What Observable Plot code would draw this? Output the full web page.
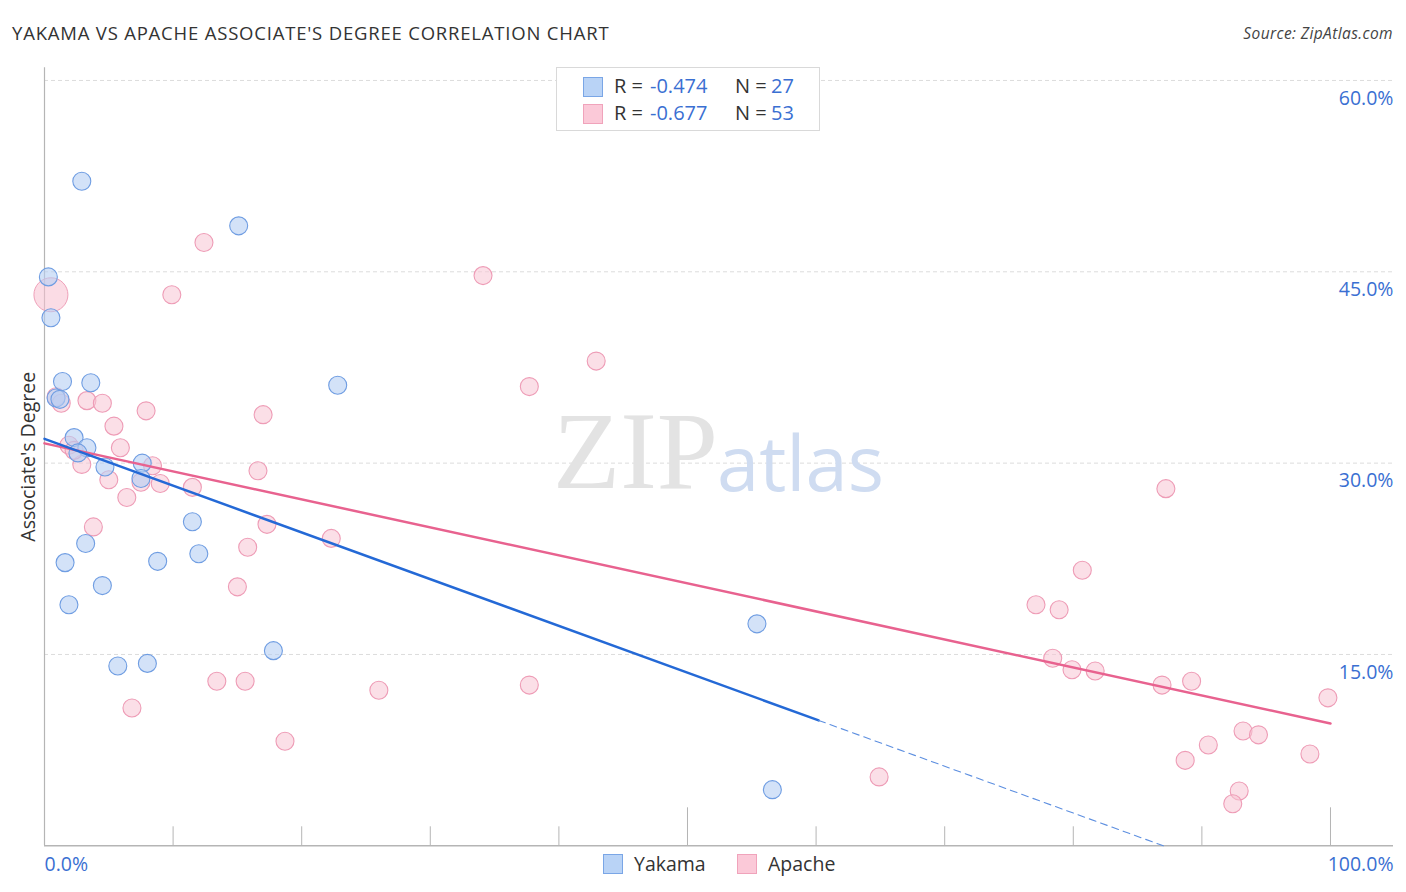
<!DOCTYPE html>
<html>
<head>
<meta charset="utf-8">
<script src="https://cdn.jsdelivr.net/npm/d3@7"></script>
<script src="https://cdn.jsdelivr.net/npm/@observablehq/plot@0.6"></script>
<style>
  html, body { margin: 0; padding: 0; background: #fff; }
  #wrap { position: relative; width: 1406px; height: 892px; font-family: "Open Sans", sans-serif; overflow: hidden; }
  #title { position: absolute; left: 12px; top: 20px; font-size: 18.5px; color: #333; letter-spacing: 0.8px; white-space: nowrap; }
  #source { position: absolute; right: 13px; top: 22px; font-size: 15.5px; color: #444; font-style: italic; letter-spacing: 0.4px; }
  #chart { position: absolute; left: 0; top: 50px; }
  .wm { position: absolute; pointer-events: none; }
  #legbox { position: absolute; left: 556px; top: 67px; width: 262px; height: 62px; border: 1px solid #d9d9d9; background: #fff; font-size: 20px; color: #333; }
  .lab { position: absolute; line-height: 26px; white-space: nowrap; }
  .sw { position: absolute; box-sizing: border-box; }
  .blue { color: #3a6fd2; }
</style>
</head>
<body>
<div id="wrap">
  <div id="title">YAKAMA VS APACHE ASSOCIATE'S DEGREE CORRELATION CHART</div>
  <div id="source">Source: ZipAtlas.com</div>
  <div id="chart"></div>
  <div class="wm" style="left:553px; top:388px; font-family:'Liberation Serif','DejaVu Serif',serif; font-size:110px; color:#e3e3e3;">ZIP</div>
  <div class="wm" style="left:717px; top:410px; font-family:'Open Sans',sans-serif; font-size:76px; color:#cfdcf1;">atlas</div>
  <div id="legbox"></div>
</div>
<script>
// ---- data ----
const seriesNames = ["Yakama", "Apache"];
const seriesR = ["-0.474", "-0.677"];
const seriesN = ["27", "53"];

const yakamaX = [2.9, 15.1, 0.3, 0.5, 1.4, 3.6, 0.9, 1.2, 22.8, 2.3, 3.3, 2.6, 4.7, 7.6, 7.5, 11.5, 3.2, 1.6, 8.8, 12.0, 4.5, 1.9, 17.8, 5.7, 8.0, 55.4, 56.6];
const yakamaY = [52.1, 48.6, 44.6, 41.4, 36.4, 36.3, 35.1, 35.0, 36.1, 32.0, 31.2, 30.8, 29.7, 30.0, 28.8, 25.4, 23.7, 22.2, 22.3, 22.9, 20.4, 18.9, 15.3, 14.1, 14.3, 17.4, 4.4];

const apacheX = [12.4, 9.9, 0.9, 1.3, 3.3, 4.5, 7.9, 17.0, 5.4, 5.9, 1.9, 2.9, 5.0, 8.4, 7.5, 9.0, 11.5, 16.6, 6.4, 3.8, 17.3, 22.3, 15.8, 15.0, 13.4, 15.6, 6.8, 18.7, 34.1, 42.9, 37.7, 26.0, 37.7, 64.9, 87.2, 80.7, 77.1, 78.9, 78.4, 79.9, 81.7, 86.9, 89.2, 99.8, 93.2, 94.4, 90.5, 88.7, 98.4, 92.9, 92.4, 2.3];
const apacheY = [47.3, 43.2, 35.2, 34.7, 34.9, 34.7, 34.1, 33.8, 32.9, 31.2, 31.4, 29.9, 28.7, 29.8, 28.5, 28.4, 28.1, 29.4, 27.3, 25.0, 25.2, 24.1, 23.4, 20.3, 12.9, 12.9, 10.8, 8.2, 44.7, 38.0, 36.0, 12.2, 12.6, 5.4, 28.0, 21.6, 18.9, 18.5, 14.7, 13.8, 13.7, 12.6, 12.9, 11.6, 9.0, 8.7, 7.9, 6.7, 7.2, 4.3, 3.3, 31.0];
// one Apache point drawn as a large bubble
const apacheBigX = [0.5];
const apacheBigY = [43.2];

// fitted trend lines (end points)
const yakamaTrendX = [0, 60.2];
const yakamaTrendY = [31.9, 9.83];
const yakamaTrendExtX = [60.2, 87.0];
const yakamaTrendExtY = [9.83, 0];
const apacheTrendX = [0, 100];
const apacheTrendY = [31.55, 9.59];

const xTicks = [0, 10, 20, 30, 40, 50, 60, 70, 80, 90, 100];
const xLongTicks = [50, 100];
const yTicks = [15, 30, 45, 60];
const xLabelLeft = [0];
const xLabelRight = [100];

const xDomain = [0, 104.9];
const yDomain = [0, 61];

// ---- build tables ----
const zip = (xs, ys) => xs.map((x, i) => ({x, y: ys[i]}));
const yakama = zip(yakamaX, yakamaY);
const apache = zip(apacheX, apacheY);
const apacheBig = zip(apacheBigX, apacheBigY);
const yakTrend = zip(yakamaTrendX, yakamaTrendY);
const yakTrendExt = zip(yakamaTrendExtX, yakamaTrendExtY);
const apTrend = zip(apacheTrendX, apacheTrendY);

const W = 1406, H = 842, mT = 17.2, mB = 46.7, mL = 44, mR = 13;
const plotH = H - mT - mB;
const blueText = "#3a6fd2";
const axisGray = "#b5b5b5";

const fmt = d => d.toFixed(1) + "%";

const chart = Plot.plot({
  width: W, height: H,
  marginTop: mT, marginBottom: mB, marginLeft: mL, marginRight: mR,
  x: {domain: xDomain, axis: null},
  y: {domain: yDomain, axis: null},
  style: {fontFamily: "'Open Sans', sans-serif", background: "transparent", overflow: "visible"},
  marks: [
    Plot.ruleY(yTicks, {y: d => d, stroke: "#dcdcdc", strokeDasharray: "4,3"}),
    Plot.ruleX(xTicks.filter(d => !xLongTicks.includes(d) && d !== 0), {x: d => d, stroke: axisGray, insetTop: plotH - 19}),
    Plot.ruleX(xLongTicks, {x: d => d, stroke: axisGray, insetTop: plotH - 38}),
    Plot.ruleX([0], {x: d => d, stroke: axisGray, strokeWidth: 1.2}),
    Plot.ruleY([0], {y: d => d, stroke: axisGray, strokeWidth: 1.5}),
    Plot.text(yTicks, {x: xDomain[1], y: d => d, text: fmt, textAnchor: "end", dy: 18, fill: blueText, fontSize: 19.5}),
    Plot.text(xLabelLeft, {x: d => d, y: 0, text: fmt, textAnchor: "start", dy: 18.5, fill: blueText, fontSize: 19.5}),
    Plot.text(xLabelRight, {x: xDomain[1], y: 0, text: fmt, textAnchor: "end", dy: 18.5, fill: blueText, fontSize: 19.5}),
    Plot.text(["Associate's Degree"], {frameAnchor: "left", text: d => d, rotate: -90, textAnchor: "middle", dx: -16, dy: 0, fill: "#333", fontSize: 19.5}),
    Plot.dot(apacheBig, {x: "x", y: "y", r: 17, fill: "#f7bfd0", fillOpacity: 0.55, stroke: "#ef9fb8", strokeWidth: 1}),
    Plot.dot(apache, {x: "x", y: "y", r: 9, fill: "#f8c4d3", fillOpacity: 0.55, stroke: "#ee9cb6", strokeWidth: 1.1}),
    Plot.dot(yakama, {x: "x", y: "y", r: 9, fill: "#b6cff3", fillOpacity: 0.6, stroke: "#6f9de2", strokeWidth: 1.1}),
    Plot.line(apTrend, {x: "x", y: "y", stroke: "#e8628f", strokeWidth: 2.5}),
    Plot.line(yakTrend, {x: "x", y: "y", stroke: "#2469d6", strokeWidth: 2.5}),
    Plot.line(yakTrendExt, {x: "x", y: "y", stroke: "#5d8fe0", strokeWidth: 1.1, strokeDasharray: "7,5"})
  ]
});
document.getElementById("chart").appendChild(chart);

// ---- legends ----
const swBlue = "background:#b9d3f6;border:1.5px solid #7aa6e6;";
const swPink = "background:#fbc9d8;border:1.5px solid #f0a3bb;";
const swatches = [swBlue, swPink];
const wrap = document.getElementById("wrap");
const box = document.getElementById("legbox");
seriesNames.forEach((name, i) => {
  const top = 5 + i * 27;
  box.insertAdjacentHTML("beforeend",
    `<div class="sw" style="left:26px;top:${top + 4}px;width:20px;height:20px;${swatches[i]}"></div>` +
    `<span class="lab" style="left:57px;top:${top}px">R =</span>` +
    `<span class="lab blue" style="left:93px;top:${top}px">${seriesR[i]}</span>` +
    `<span class="lab" style="left:178px;top:${top}px">N =</span>` +
    `<span class="lab blue" style="left:214px;top:${top}px">${seriesN[i]}</span>`);
});
const legX = [603, 737];
seriesNames.forEach((name, i) => {
  wrap.insertAdjacentHTML("beforeend",
    `<div class="sw" style="left:${legX[i]}px;top:854px;width:20px;height:20px;${swatches[i]}"></div>` +
    `<span class="lab" style="left:${legX[i] + 31}px;top:851px;font-size:19.5px;color:#333">${name}</span>`);
});
</script>
</body>
</html>
